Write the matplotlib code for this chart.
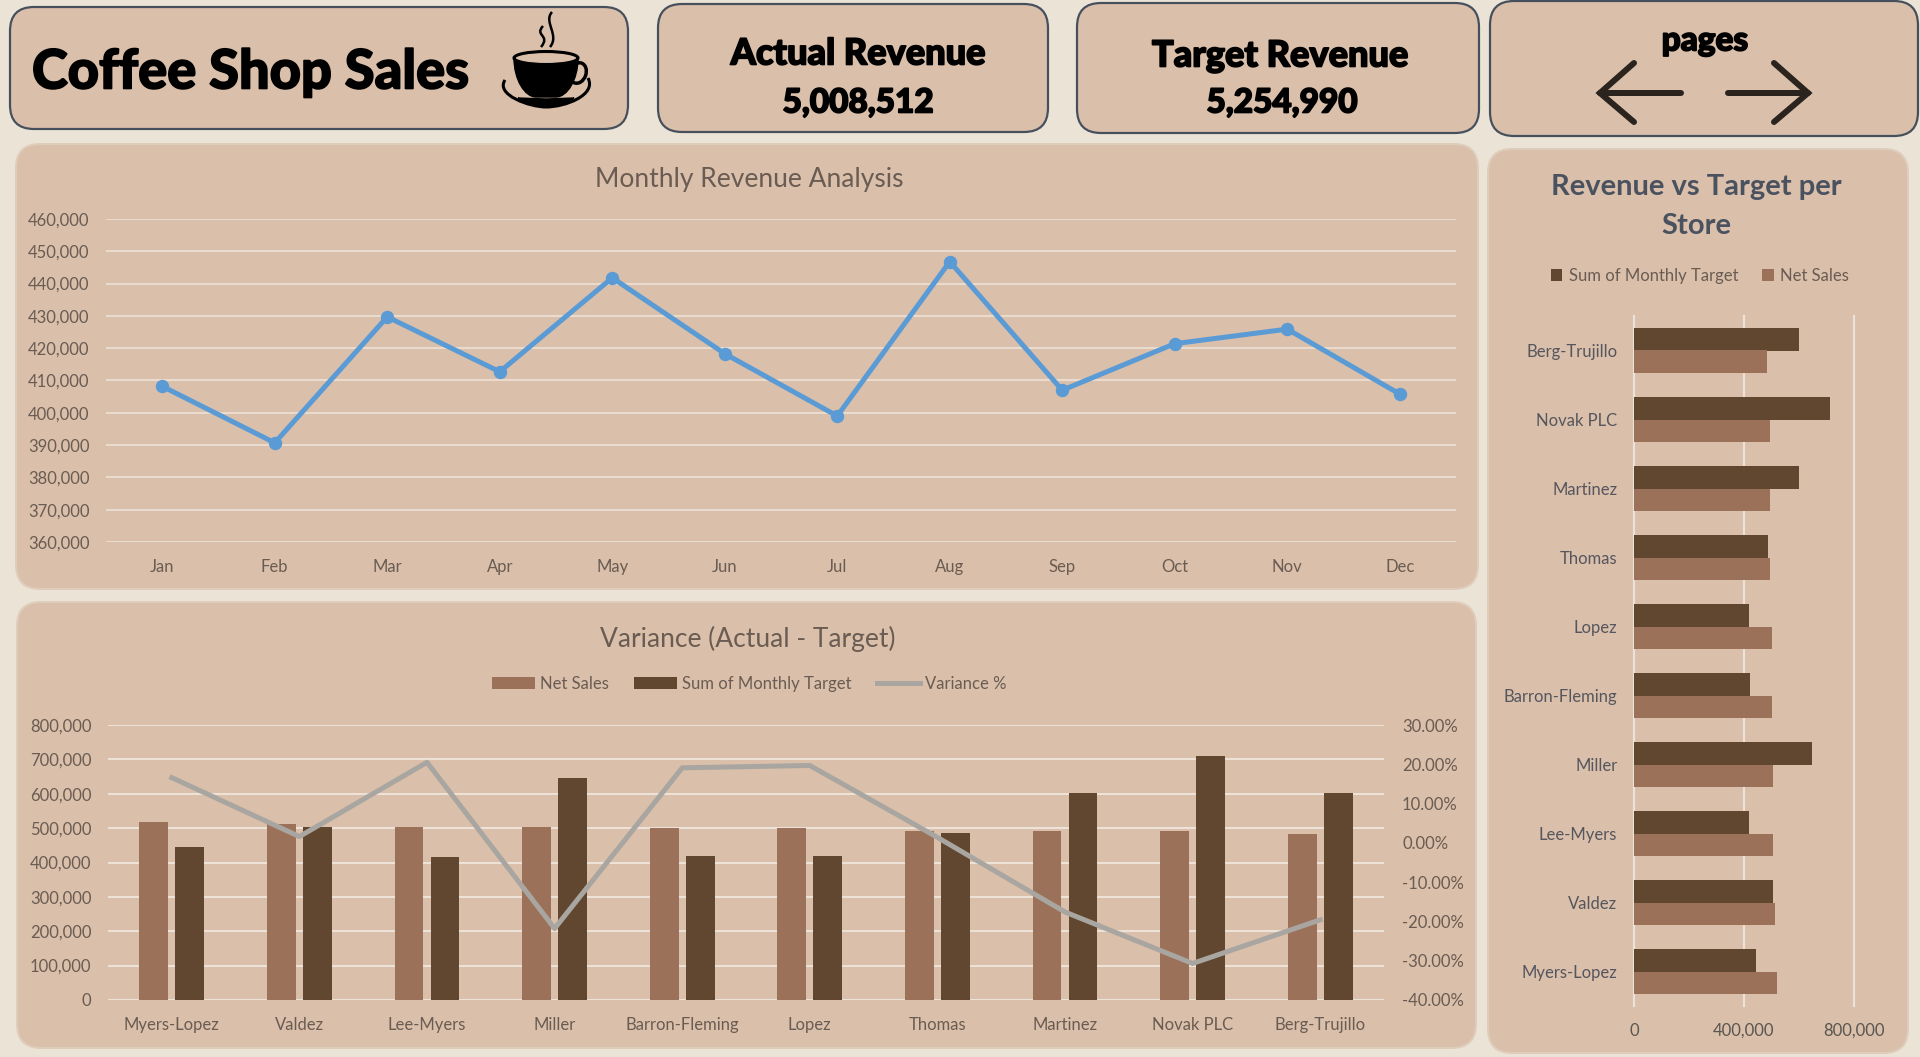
import matplotlib
matplotlib.use("Agg")
import matplotlib.pyplot as plt
import numpy as np
from matplotlib.patches import FancyBboxPatch, PathPatch, Ellipse
from matplotlib.path import Path
from matplotlib.ticker import FuncFormatter
import matplotlib.patheffects as pe

plt.rcParams["font.family"] = ["Lato", "DejaVu Sans"]

# ---- data ----
months = ["Jan", "Feb", "Mar", "Apr", "May", "Jun", "Jul", "Aug", "Sep", "Oct", "Nov", "Dec"]
monthly_revenue = [408200, 390700, 429700, 412700, 441800, 418300,
                   399000, 446800, 407000, 421400, 425900, 405800]

stores = ["Myers-Lopez", "Valdez", "Lee-Myers", "Miller", "Barron-Fleming",
          "Lopez", "Thomas", "Martinez", "Novak PLC", "Berg-Trujillo"]
net_sales = [519000, 512000, 504000, 504000, 501000, 500000, 493000, 493000, 493000, 482000]
monthly_target = [445000, 504000, 417000, 646000, 420000, 418000, 486000, 601000, 711000, 601000]
variance_pct = [16.6, 1.6, 20.5, -21.8, 19.1, 19.7, 1.4, -17.6, -30.7, -19.6]

actual_text = "5,008,512"
target_text = "5,254,990"

# ---- colours ----
BG = "#EBE3D6"
PANEL = "#DABFAA"
EDGE = "#46505C"
NET = "#9C7159"
TARGET = "#614730"
GRID = "#EDE2D8"
TICK = "#6A5C52"
LINE = "#5B9BD5"
VAR = "#A9A6A1"

W, H = 1920, 1057
PX = 72 / 100  # one pixel in points at dpi 100

fig = plt.figure(figsize=(W / 100, H / 100), dpi=100, facecolor=BG)

# overlay in pixel coordinates for the cards and icons
bg = fig.add_axes([0, 0, 1, 1], zorder=0)
bg.set_xlim(0, W)
bg.set_ylim(H, 0)
bg.axis("off")


def card(x0, x1, y0, y1, edge=True, r=24):
    bg.add_patch(FancyBboxPatch((x0 + r, y0 + r), x1 - x0 - 2 * r, y1 - y0 - 2 * r,
                                boxstyle=f"round,pad={r},rounding_size={r}",
                                fc=PANEL, ec=EDGE if edge else "#DFCDBC",
                                lw=2.2 * PX if edge else 2 * PX))


def heavy(x, y, s, size, ha="center"):
    t = bg.text(x, y, s, fontsize=size, fontweight=900, ha=ha, va="center", color="black")
    t.set_path_effects([pe.withStroke(linewidth=1.2, foreground="black")])


def axes_px(x0, x1, y0, y1, **kw):
    return fig.add_axes([x0 / W, 1 - y1 / H, (x1 - x0) / W, (y1 - y0) / H], **kw)


def clean(ax):
    ax.patch.set_alpha(0)
    for s in ax.spines.values():
        s.set_visible(False)
    ax.tick_params(length=0, labelsize=12, labelcolor=TICK)


card(10, 628, 7, 129)
card(658, 1048, 4, 132)
card(1077, 1479, 3, 133)
card(1490, 1918, 1, 136)
card(16, 1478, 144, 589, edge=False)
card(17, 1476, 602, 1048, edge=False)
card(1488, 1908, 149, 1053, edge=False)

heavy(32, 73, "Coffee Shop Sales", 39, ha="left")
heavy(858, 54, "Actual Revenue", 26)
heavy(858, 103, actual_text, 24)
heavy(1280, 56, "Target Revenue", 26)
heavy(1282, 103, target_text, 24)
heavy(1705, 41, "pages", 24)

# cup icon
M, C, L = Path.MOVETO, Path.CURVE4, Path.LINETO
bg.add_patch(PathPatch(Path([(514, 58), (514, 80), (525, 97), (536, 97),
                             (556, 97), (567, 97), (578, 80), (578, 58), (514, 58)],
                            [M, C, C, C, L, C, C, C, L]), fc="black", ec="black"))
bg.add_patch(Ellipse((546, 58), 64, 13, fc=PANEL, ec="black", lw=2.2))
bg.add_patch(Ellipse((578, 73), 16, 21, angle=20, fc="none", ec="black", lw=2.5))
bg.add_patch(PathPatch(Path([(505, 80), (495, 95), (530, 107), (546, 107),
                             (565, 107), (597, 95), (588, 78)],
                            [M, C, C, C, C, C, C]), fc="none", ec="black", lw=2.2))
bg.add_patch(PathPatch(Path([(518, 98), (530, 108), (562, 108), (574, 98), (546, 99), (518, 98)],
                            [M, C, C, C, L, L]), fc="black", ec="black"))
for dx, top, bot in [(0, 26, 47), (9, 12, 47)]:
    bg.add_patch(PathPatch(Path([(543 + dx, top), (534 + dx, top + 10), (551 + dx, bot - 12), (541 + dx, bot)],
                                [M, C, C, C]), fc="none", ec="black", lw=1.8))

# page arrows
for pts in [[(1634, 63), (1600, 93), (1634, 122)], [(1600, 93), (1681, 93)],
            [(1774, 63), (1808, 93), (1774, 122)], [(1728, 93), (1808, 93)]]:
    xs, ys = zip(*pts)
    bg.plot(xs, ys, color="#2B231D", lw=6 * PX, solid_capstyle="round", solid_joinstyle="miter")

# ---- monthly revenue line ----
ax1 = axes_px(106, 1456, 219, 542, zorder=2)
clean(ax1)
ax1.plot(months, monthly_revenue, color=LINE, lw=5 * PX, marker="o", ms=12 * PX, zorder=3, clip_on=False)
ax1.set_xlim(-0.5, 11.5)
ax1.set_ylim(360000, 460000)
ax1.set_yticks(np.arange(360000, 460001, 10000))
ax1.yaxis.set_major_formatter(FuncFormatter(lambda v, _: f"{v:,.0f}"))
ax1.grid(axis="y", color=GRID, lw=1.6 * PX)
ax1.set_axisbelow(True)
ax1.tick_params(axis="x", pad=12)
ax1.tick_params(axis="y", pad=12)
bg.text(749, 180, "Monthly Revenue Analysis", fontsize=19, color=TICK, ha="center", va="center")

# ---- variance combo ----
ax2 = axes_px(108, 1384, 725, 1000, zorder=2)
clean(ax2)
pos = np.arange(len(stores))
h_net = ax2.bar(pos - 0.141, net_sales, 0.225, color=NET, label="Net Sales", zorder=3)
h_tar = ax2.bar(pos + 0.141, monthly_target, 0.225, color=TARGET, label="Sum of Monthly Target", zorder=3)
ax2.set_xticks(pos)
ax2.set_xticklabels(stores)
ax2.set_xlim(-0.5, 9.5)
ax2.set_ylim(0, 800000)
ax2.set_yticks(np.arange(0, 800001, 100000))
ax2.yaxis.set_major_formatter(FuncFormatter(lambda v, _: f"{v:,.0f}"))
ax2.grid(axis="y", color=GRID, lw=2 * PX)
ax2.set_axisbelow(True)
ax2.tick_params(axis="x", pad=12)
ax2.tick_params(axis="y", pad=12)

ax2b = ax2.twinx()
clean(ax2b)
h_var, = ax2b.plot(pos, variance_pct, color=VAR, lw=5 * PX, label="Variance %", zorder=4)
ax2b.set_ylim(-40, 30)
ax2b.set_yticks(np.arange(-40, 31, 10))
ax2b.yaxis.set_major_formatter(FuncFormatter(lambda v, _: f"{v:.2f}%"))
ax2b.tick_params(axis="y", pad=13)
ax2b.legend(handles=[h_net, h_tar, h_var], ncol=3, frameon=False, loc="center",
            bbox_to_anchor=((749 - 108) / 1276, 1 + (725 - 684) / 275),
            fontsize=12, labelcolor=TICK, handlelength=2.6, handleheight=0.7,
            handletextpad=0.3, columnspacing=1.5)
bg.text(748, 639, "Variance (Actual - Target)", fontsize=19, color=TICK, ha="center", va="center")

# ---- revenue vs target per store ----
ax3 = axes_px(1634, 1854, 316, 1006, zorder=2)
clean(ax3)
ax3.barh(pos + 0.165, monthly_target, 0.33, color=TARGET, label="Sum of Monthly Target", zorder=3)
ax3.barh(pos - 0.165, net_sales, 0.33, color=NET, label="Net Sales", zorder=3)
ax3.set_yticks(pos)
ax3.set_yticklabels(stores)
ax3.set_ylim(-0.5, 9.5)
ax3.set_xlim(0, 800000)
ax3.set_xticks([0, 400000, 800000])
ax3.xaxis.set_major_formatter(FuncFormatter(lambda v, _: f"{v:,.0f}"))
ax3.grid(axis="x", color=GRID, lw=2.2 * PX)
ax3.set_axisbelow(True)
for g in ax3.get_xgridlines():
    g.set_clip_on(False)
ax3.tick_params(axis="x", pad=12, labelcolor="#5A5650")
ax3.tick_params(axis="y", pad=12, labelcolor="#56565E")
ax3.legend(ncol=2, frameon=False, loc="center",
           bbox_to_anchor=((1700 - 1634) / 220, 1 + (316 - 276) / 690),
           fontsize=12, labelcolor=TICK, handlelength=0.7, handleheight=0.7,
           handletextpad=0.4, columnspacing=1.4)
bg.text(1696, 187, "Revenue vs Target per", fontsize=21, fontweight="bold", color="#4A5260", ha="center", va="center")
bg.text(1696, 226, "Store", fontsize=21, fontweight="bold", color="#4A5260", ha="center", va="center")

fig.savefig("out.png", dpi=100, facecolor=BG)
